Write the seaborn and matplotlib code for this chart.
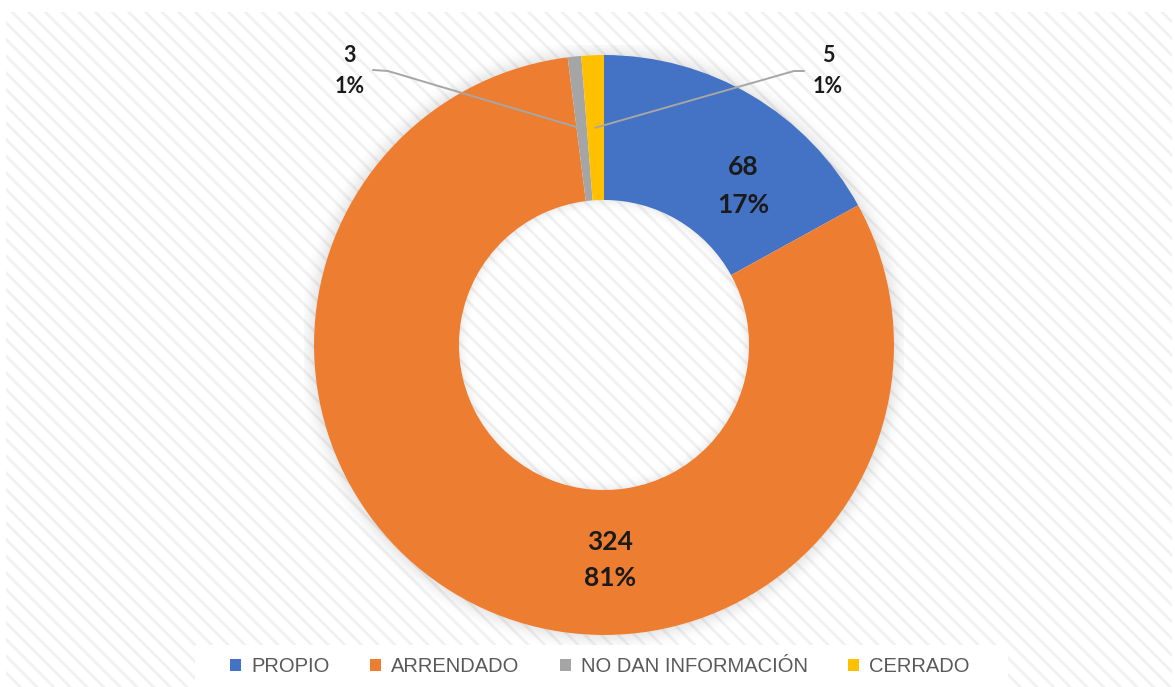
import matplotlib.pyplot as plt
import seaborn as sns
from matplotlib.patches import Rectangle, Wedge
import numpy as np

categorias = ['PROPIO', 'ARRENDADO', 'NO DAN INFORMACIÓN', 'CERRADO']
valores = [68, 324, 3, 5]
porcentajes = ['17%', '81%', '1%', '1%']
colores = ['#4472C4', '#ED7D31', '#A5A5A5', '#FFC000']

sns.set_theme(style='white')
plt.rcParams['font.family'] = ['Lato', 'DejaVu Sans']
plt.rcParams['hatch.linewidth'] = 2.0

W, H = 1175, 687
fig = plt.figure(figsize=(W / 100, H / 100), dpi=100)
fig.patch.set_facecolor('white')

# fondo rayado
fig.patches.append(Rectangle((6 / W, 0), (1172 - 6) / W, (H - 12) / H,
                             transform=fig.transFigure, facecolor='white',
                             edgecolor='#f1f1f1', hatch='\\\\', lw=0, zorder=-3))
# caja blanca de la leyenda
fig.patches.append(Rectangle((195 / W, 0), (1008 - 195) / W, 42 / H,
                             transform=fig.transFigure, facecolor='white',
                             edgecolor='none', zorder=-2))

# ejes del anillo
cx, cy, R = 604, 345, 290
ax = fig.add_axes([(cx - 300) / W, (H - cy - 300) / H, 600 / W, 600 / H])

# sombra exterior e interior
n = 16
for k in range(n):
    a = 0.09 * (1 - k / n) ** 1.8
    ax.add_patch(Wedge((0, 0), 1.0 + (k + 1) * 0.004, 0, 360, width=0.004,
                       facecolor='black', alpha=a, lw=0, zorder=1))
for k in range(10):
    a = 0.06 * (1 - k / 10) ** 1.8
    ax.add_patch(Wedge((0, 0), 0.5 - k * 0.004, 0, 360, width=0.004,
                       facecolor='black', alpha=a, lw=0, zorder=1))

wedges, _ = ax.pie(valores, colors=colores, startangle=90, counterclock=False,
                   radius=1, wedgeprops=dict(width=0.5, edgecolor='none', linewidth=0))
for w in wedges:
    w.set_zorder(2)

ax.set_xlim(-300 / R, 300 / R)
ax.set_ylim(-300 / R, 300 / R)
ax.axis('off')
ax.patch.set_alpha(0)


def px(x, y):
    return (x - cx) / R, (cy - y) / R


# etiquetas de datos
pos_etiquetas = [(743, 186), (610, 560), (350, 71), (828, 71)]
tamanos = [19, 19, 15.5, 15.5]
separacion = [19, 18, 15.5, 15.5]
for i, (x, y) in enumerate(pos_etiquetas):
    for txt, dy in [(str(valores[i]), -separacion[i]), (porcentajes[i], separacion[i])]:
        tx, ty = px(x, y + dy)
        ax.text(tx, ty, txt, ha='center', va='center', fontsize=tamanos[i],
                fontweight='bold', color='#1a1a1a', zorder=5)

# lineas guia para los segmentos pequenos
codos = {2: [(373, 70), (388, 71)], 3: [(804, 71), (794, 71)]}
for i, pts in codos.items():
    w = wedges[i]
    ang = np.deg2rad((w.theta1 + w.theta2) / 2)
    ex, ey = 0.75 * np.cos(ang), 0.75 * np.sin(ang)
    xs = [px(*p)[0] for p in pts] + [ex]
    ys = [px(*p)[1] for p in pts] + [ey]
    ax.plot(xs, ys, color='#a6a6a6', lw=1.4, zorder=4, solid_capstyle='round')

fig.legend(wedges, categorias, loc='center', bbox_to_anchor=(600 / W, 1 - 667 / H),
           ncol=4, frameon=False, handlelength=0.55, handleheight=0.55,
           handletextpad=0.5, columnspacing=2.0, labelcolor='#595959',
           prop={'family': ['Liberation Sans', 'DejaVu Sans'], 'size': 14.5})

fig.savefig('out.png', dpi=100, facecolor='white')
